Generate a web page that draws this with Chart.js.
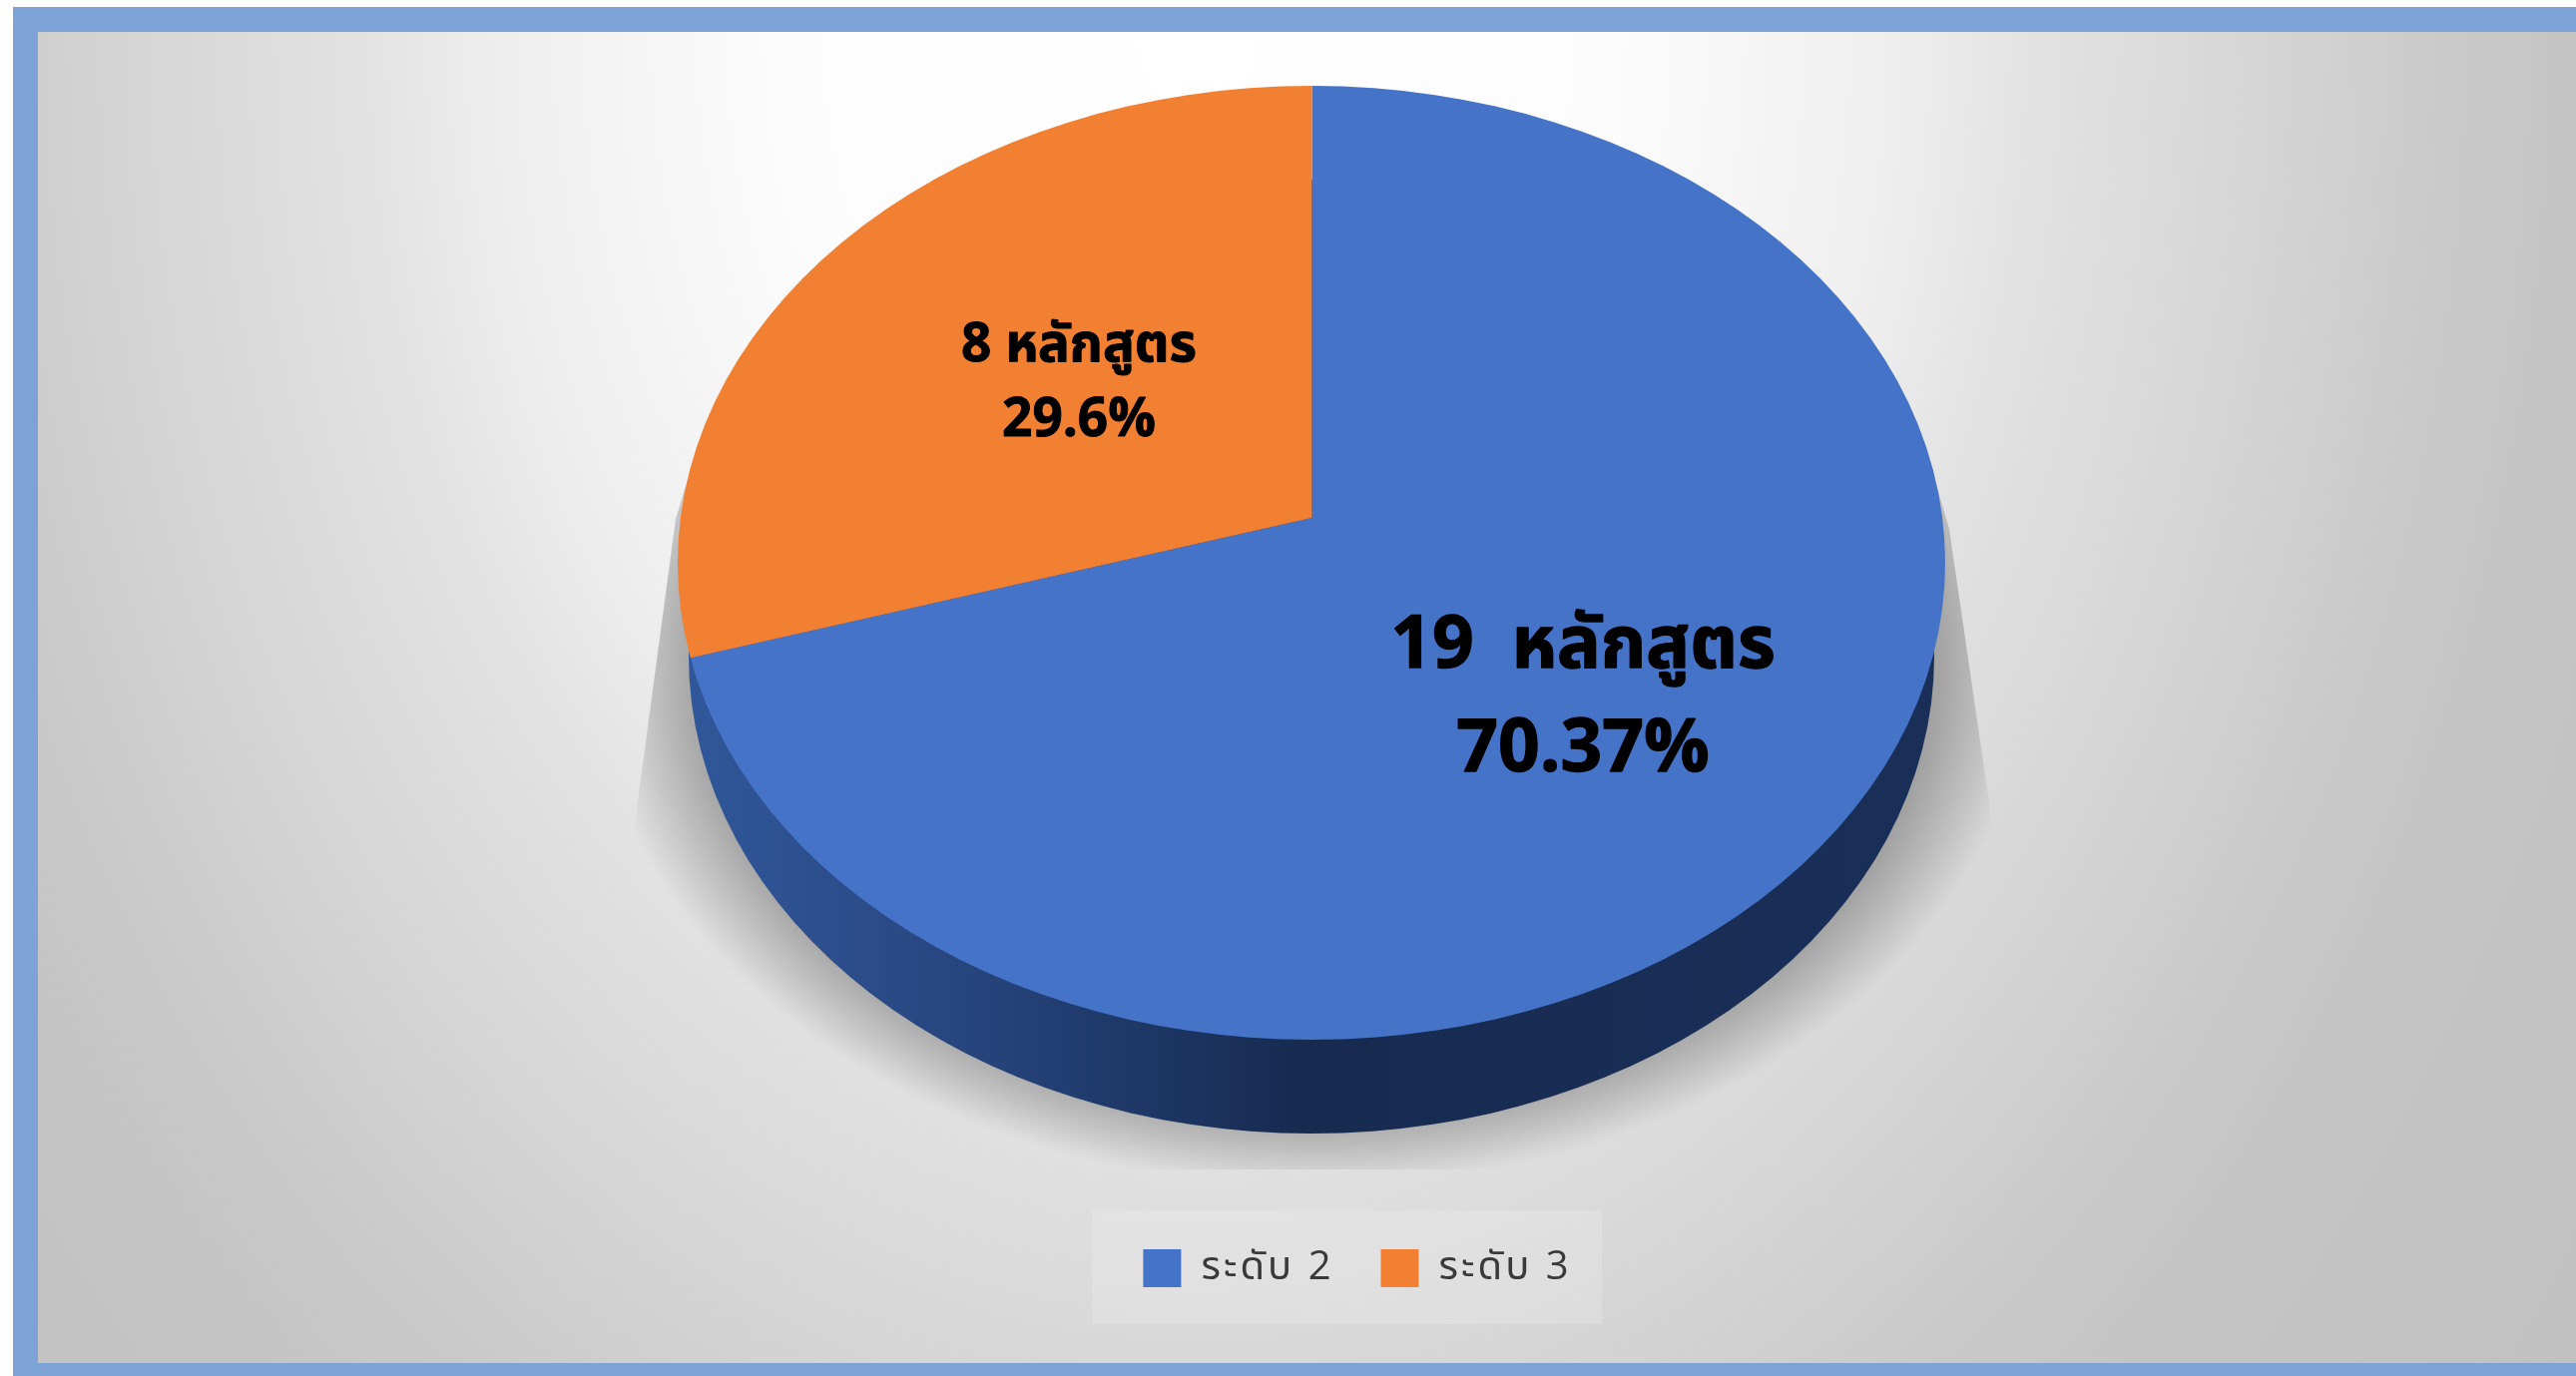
<!DOCTYPE html>
<html lang="th">
<head>
<meta charset="utf-8">
<title>ระดับ 2 / ระดับ 3</title>
<script src="https://cdn.jsdelivr.net/npm/chart.js@4"></script>
<style>
html,body{margin:0;padding:0;background:#fff;overflow:hidden}
canvas{display:block}
</style>
</head>
<body>
<canvas id="c" width="2581" height="1379"></canvas>
<script>
const categories = ['ระดับ 2', 'ระดับ 3'];
const courseCounts = [19, 8];
const sliceColors = ['#4473C8', '#F28032'];
const sliceLabels = [['19  หลักสูตร', '70.37%'], ['8 หลักสูตร', '29.6%']];

const FONT = '"Open Sans","Noto Sans Thai","Noto Sans","Liberation Sans",sans-serif';
const W = 2581, H = 1379;
const inner = {l: 38, t: 32, b: 1366};
const top3d = {cx: 1314, cy: 564, rx: 635, ry: 478, apexX: 1314.5, apexY: 519};
const side3d = {cx: 1314, cy: 658, rx: 624, ry: 478};
const labelStyle = [
  {x: 1586, ys: [648, 752], size: 73},
  {x: 1081, ys: [347, 422], size: 53}
];

function ell(ctx, e) {
  ctx.beginPath();
  ctx.ellipse(e.cx, e.cy, e.rx, e.ry, 0, 0, Math.PI * 2);
}

const scene = {
  id: 'scene',
  beforeLayout(chart) {
    chart.ctx.letterSpacing = '3px';
  },
  beforeDraw(chart) {
    const ctx = chart.ctx;
    ctx.letterSpacing = '3px';
    ctx.save();
    ctx.fillStyle = '#fff';
    ctx.fillRect(0, 0, W, H);
    ctx.fillStyle = '#7CA2D6';
    ctx.fillRect(13, 7, W - 13, H - 7);
    // panel background
    ctx.beginPath();
    ctx.rect(inner.l, inner.t, W - inner.l, inner.b - inner.t);
    ctx.clip();
    ctx.save();
    ctx.translate(1200, 32);
    ctx.scale(1, 1820 / 1400);
    const R0 = 1400 * 1.37;
    const g = ctx.createRadialGradient(0, 0, 0, 0, 0, R0);
    const stops = [[0, 'ff'], [0.3, 'fc'], [0.5, 'ee'], [0.6, 'e2'], [0.7, 'da'], [0.8, 'd2'], [0.9, 'c9'], [1, 'c4'], [1.37, 'bf']];
    stops.forEach(([t, v]) => g.addColorStop(t / 1.37, '#' + v + v + v));
    ctx.fillStyle = g;
    ctx.fillRect(-1400, -100, 2800, 1300);
    ctx.restore();
    // legend plate
    ctx.fillStyle = 'rgba(240,240,240,0.3)';
    ctx.fillRect(1094, 1213, 511, 114);
    // ground shadow
    ctx.save();
    ctx.filter = 'blur(2px)';
    ctx.beginPath();
    ctx.moveTo(704, 431);
    ctx.lineTo(677, 520);
    ctx.lineTo(637, 818);
    ctx.lineTo(600, 1172);
    ctx.lineTo(2030, 1172);
    ctx.lineTo(1995, 818);
    ctx.lineTo(1953, 530);
    ctx.lineTo(1924, 431);
    ctx.closePath();
    ctx.clip();
    ctx.translate(1314, 658);
    ctx.scale(720 / 530, 1);
    const sg = ctx.createRadialGradient(0, 0, 0, 0, 0, 530);
    sg.addColorStop(0, 'rgba(70,70,70,0.40)');
    sg.addColorStop(0.87, 'rgba(70,70,70,0.40)');
    sg.addColorStop(0.93, 'rgba(70,70,70,0.22)');
    sg.addColorStop(1, 'rgba(70,70,70,0)');
    ctx.fillStyle = sg;
    ctx.fillRect(-800, -800, 1600, 1600);
    ctx.restore();
    // pie side wall
    const sd = ctx.createLinearGradient(690, 0, 1938, 0);
    sd.addColorStop(0, '#30579A');
    sd.addColorStop(0.168, '#2A4A86');
    sd.addColorStop(0.33, '#203A6C');
    sd.addColorStop(0.49, '#172B51');
    sd.addColorStop(1, '#1A2F58');
    ctx.fillStyle = sd;
    ell(ctx, side3d);
    ctx.fill();
    ctx.restore();
  },
  beforeDatasetsDraw(chart) {
    const ctx = chart.ctx, a = chart.getDatasetMeta(0).data[0];
    const R = a.outerRadius, over = 1.5;
    ctx.save();
    ell(ctx, top3d);
    ctx.clip();
    ctx.translate(top3d.apexX, top3d.apexY);
    ctx.scale(over * top3d.rx / R, over * top3d.ry / R);
    ctx.translate(-a.x, -a.y);
  },
  afterDatasetsDraw(chart) {
    const ctx = chart.ctx;
    ctx.restore();
    ctx.save();
    ctx.letterSpacing = '0px';
    ctx.fillStyle = '#000';
    ctx.strokeStyle = '#000';
    ctx.lineJoin = 'round';
    ctx.textAlign = 'center';
    ctx.textBaseline = 'middle';
    sliceLabels.forEach((lines, i) => {
      const st = labelStyle[i];
      ctx.font = `bold ${st.size}px ${FONT}`;
      ctx.lineWidth = st.size / 55;
      lines.forEach((t, j) => {
        ctx.strokeText(t, st.x, st.ys[j]);
        ctx.fillText(t, st.x, st.ys[j]);
      });
    });
    ctx.restore();
  }
};

new Chart(document.getElementById('c'), {
  type: 'pie',
  data: {
    labels: categories,
    datasets: [{
      data: courseCounts,
      backgroundColor: sliceColors,
      borderWidth: 0,
      clip: false
    }]
  },
  options: {
    responsive: false,
    animation: false,
    devicePixelRatio: 1,
    layout: {padding: {left: 139, bottom: 78, top: 40}},
    plugins: {
      tooltip: {enabled: false},
      legend: {
        position: 'bottom',
        labels: {
          boxWidth: 38,
          boxHeight: 38,
          padding: 47,
          color: '#3a3a3a',
          font: {size: 40, family: FONT}
        }
      }
    }
  },
  plugins: [scene]
});
</script>
</body>
</html>
